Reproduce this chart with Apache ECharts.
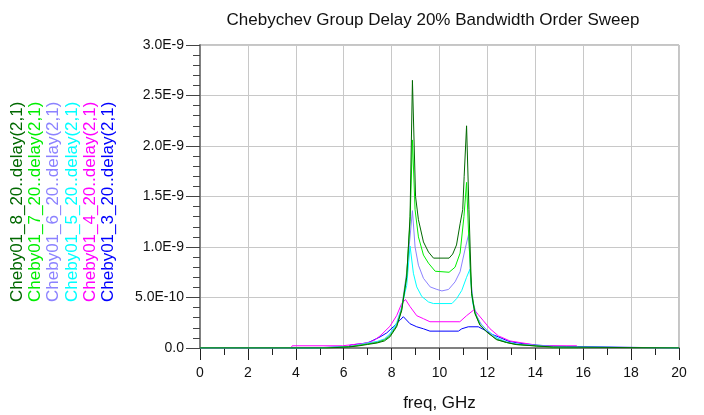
<!DOCTYPE html>
<html>
<head>
<meta charset="utf-8">
<script src="https://cdn.jsdelivr.net/npm/echarts@6/dist/echarts.min.js"></script>
<style>
html,body{margin:0;padding:0;background:#fff;}
#chart{width:704px;height:415px;}
</style>
</head>
<body>
<div id="chart"></div>
<script>
// Values in units of 1e-9 s, frequency in GHz
const seriesNames = [
  'Cheby01_8_20..delay(2,1)',
  'Cheby01_7_20..delay(2,1)',
  'Cheby01_6_20..delay(2,1)',
  'Cheby01_5_20..delay(2,1)',
  'Cheby01_4_20..delay(2,1)',
  'Cheby01_3_20..delay(2,1)'
];
const seriesColors = ['#006800', '#00ee00', '#8c82ff', '#00ffff', '#ff00ff', '#0000ff'];

const cheby8 = [[0,0],[5.3,0],[5.35,0.01],[6.2,0.01],[6.6,0.02],[7.0,0.035],[7.4,0.05],[7.7,0.07],[7.93,0.11],[8.21,0.21],[8.42,0.37],[8.63,0.70],[8.77,1.3],[8.87,2.65],[9.0,1.5],[9.12,1.27],[9.33,1.05],[9.54,0.95],[9.75,0.89],[10.4,0.89],[10.55,0.93],[10.71,1.02],[10.86,1.23],[10.97,1.37],[11.03,1.7],[11.13,2.2],[11.23,1.37],[11.34,0.54],[11.48,0.34],[11.69,0.225],[11.97,0.16],[12.38,0.083],[12.8,0.054],[13.2,0.034],[14.05,0.02],[14.75,0.01],[14.8,0],[20,0]];
const cheby7 = [[0,0],[5.1,0],[5.15,0.012],[6.2,0.012],[6.6,0.025],[7.0,0.04],[7.4,0.055],[7.7,0.08],[7.93,0.12],[8.21,0.22],[8.42,0.38],[8.63,0.72],[8.77,1.25],[8.87,2.06],[8.98,1.37],[9.12,1.10],[9.33,0.92],[9.54,0.84],[9.82,0.76],[10.4,0.75],[10.65,0.80],[10.86,0.94],[11.02,1.30],[11.13,1.64],[11.22,1.1],[11.34,0.55],[11.48,0.35],[11.69,0.23],[11.97,0.16],[12.38,0.085],[12.8,0.055],[13.2,0.035],[14.0,0.02],[14.6,0.01],[14.7,0],[20,0]];
const cheby6 = [[0,0],[5.0,0],[5.05,0.015],[6.3,0.015],[6.6,0.03],[7.0,0.045],[7.4,0.06],[7.7,0.085],[7.93,0.13],[8.21,0.23],[8.42,0.40],[8.63,0.75],[8.75,1.05],[8.87,1.36],[8.98,1.0],[9.12,0.82],[9.33,0.69],[9.61,0.605],[9.89,0.58],[10.1,0.565],[10.38,0.58],[10.65,0.655],[10.86,0.755],[11.06,0.97],[11.22,1.13],[11.3,0.7],[11.41,0.45],[11.55,0.32],[11.75,0.23],[12.0,0.17],[12.4,0.09],[12.8,0.058],[13.3,0.036],[14.2,0.02],[15.0,0.01],[15.05,0],[20,0]];
const cheby5 = [[0,0],[4.9,0],[4.95,0.015],[6.3,0.015],[6.6,0.03],[7.0,0.05],[7.4,0.065],[7.7,0.09],[7.93,0.14],[8.21,0.25],[8.42,0.40],[8.56,0.55],[8.63,0.62],[8.77,1.01],[8.91,0.74],[9.05,0.605],[9.26,0.51],[9.54,0.456],[9.75,0.44],[10.52,0.44],[10.72,0.49],[10.93,0.57],[11.13,0.70],[11.27,0.78],[11.38,0.45],[11.5,0.34],[11.69,0.25],[11.97,0.18],[12.4,0.10],[12.8,0.06],[13.3,0.038],[14.3,0.02],[15.2,0.01],[15.25,0],[20,0]];
const cheby4 = [[0,0],[3.8,0],[3.85,0.022],[5.95,0.022],[6.0,0.04],[6.8,0.045],[7.1,0.06],[7.3,0.08],[7.52,0.12],[7.93,0.215],[8.21,0.32],[8.42,0.44],[8.58,0.48],[8.77,0.41],[9.05,0.32],[9.33,0.29],[9.6,0.26],[10.85,0.26],[11.13,0.32],[11.45,0.38],[11.62,0.33],[11.83,0.27],[12.11,0.19],[12.46,0.12],[12.94,0.07],[13.36,0.054],[13.9,0.034],[14.0,0.022],[15.73,0.022],[15.78,0],[20,0]];
const cheby3 = [[0,0],[4.65,0],[4.7,0.015],[6.2,0.015],[6.3,0.03],[7.0,0.05],[7.52,0.11],[7.8,0.15],[8.07,0.21],[8.35,0.275],[8.49,0.31],[8.77,0.24],[9.05,0.21],[9.33,0.19],[9.6,0.167],[10.79,0.167],[10.93,0.19],[11.2,0.21],[11.62,0.21],[11.9,0.176],[12.11,0.143],[12.46,0.11],[12.9,0.065],[13.4,0.045],[14.0,0.03],[14.6,0.02],[15.3,0.015],[15.35,0],[20,0]];

const seriesData = [cheby8, cheby7, cheby6, cheby5, cheby4, cheby3];
const yTickLabels = ['0.0','5.0E-10','1.0E-9','1.5E-9','2.0E-9','2.5E-9','3.0E-9'];
const xTickLabels = ['0','2','4','6','8','10','12','14','16','18','20'];

const chart = echarts.init(document.getElementById('chart'), null, {renderer: 'canvas'});

const series = [];
// draw in reverse so order-8 trace is on top
for (let i = seriesData.length - 1; i >= 0; i--) {
  series.push({
    name: seriesNames[i],
    type: 'line',
    data: seriesData[i],
    showSymbol: false,
    symbol: 'none',
    lineStyle: {width: 1, color: seriesColors[i]},
    itemStyle: {color: seriesColors[i]},
    z: 3
  });
}

const legendColX = [17, 35, 53, 72, 90, 108];
const graphics = seriesNames.map((n, i) => ({
  type: 'text',
  x: legendColX[i],
  y: 302,
  rotation: Math.PI / 2,
  style: {
    text: n,
    fill: seriesColors[i],
    font: '17px "Liberation Sans", Arial, sans-serif',
    align: 'left',
    verticalAlign: 'middle'
  }
}));

chart.setOption({
  animation: false,
  backgroundColor: '#ffffff',
  title: {
    text: 'Chebychev Group Delay 20% Bandwidth Order Sweep',
    left: 428,
    top: 7,
    textAlign: 'center',
    textStyle: {fontFamily: '"Liberation Sans", Arial, sans-serif', fontSize: 17, fontWeight: 'normal', color: '#111'}
  },
  grid: {left: 200, right: 25, top: 45, bottom: 67, show: true, borderColor: '#8a8a8a', borderWidth: 1, containLabel: false, outerBoundsMode: 'none'},
  xAxis: {
    type: 'value',
    min: 0, max: 20, interval: 2,
    name: 'freq, GHz',
    nameLocation: 'middle',
    nameGap: 47,
    nameTextStyle: {fontFamily: '"Liberation Sans", Arial, sans-serif', fontSize: 17, color: '#111'},
    axisLine: {show: true, onZero: false, lineStyle: {color: '#808080', width: 2}},
    axisTick: {show: true, length: 12, lineStyle: {color: '#222', width: 1}},
    minorTick: {show: true, splitNumber: 2, length: 7, lineStyle: {color: '#222', width: 1}},
    axisLabel: {margin: 18, fontFamily: '"Liberation Sans", Arial, sans-serif', fontSize: 14, color: '#111',
      formatter: v => xTickLabels[Math.round(v / 2)]},
    splitLine: {show: true, lineStyle: {color: '#c8c8c8', width: 1}}
  },
  yAxis: {
    type: 'value',
    min: 0, max: 3, interval: 0.5,
    axisLine: {show: true, onZero: false, lineStyle: {color: '#808080', width: 2}},
    axisTick: {show: true, length: 14, lineStyle: {color: '#444', width: 1}},
    minorTick: {show: true, splitNumber: 5, length: 7, lineStyle: {color: '#444', width: 1}},
    axisLabel: {margin: 16, fontFamily: '"Liberation Sans", Arial, sans-serif', fontSize: 14, color: '#111',
      formatter: v => yTickLabels[Math.round(v / 0.5)]},
    splitLine: {show: true, lineStyle: {color: '#c8c8c8', width: 1}}
  },
  graphic: graphics,
  series: series
});
</script>
</body>
</html>
